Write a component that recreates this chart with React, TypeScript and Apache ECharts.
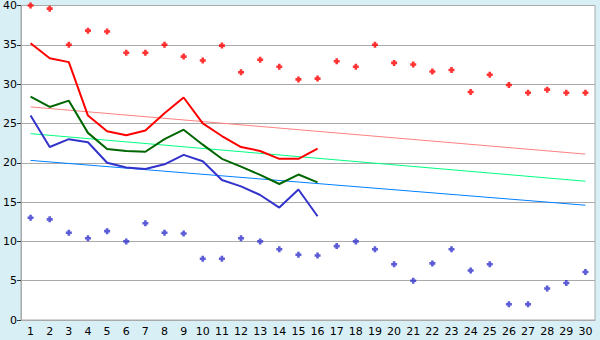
import React, { useEffect, useRef } from "react";
import * as echarts from "echarts";

const days = Array.from({ length: 30 }, (_, i) => String(i + 1));

const maxPoints = [40.0, 39.6, 35.0, 36.8, 36.7, 34.0, 34.0, 35.0, 33.5, 33.0, 34.9, 31.5, 33.1, 32.2, 30.6, 30.7, 32.9, 32.2, 35.0, 32.7, 32.5, 31.6, 31.8, 29.0, 31.2, 29.9, 28.9, 29.3, 28.9, 28.9];
const minPoints = [13.0, 12.8, 11.1, 10.4, 11.3, 10.0, 12.3, 11.1, 11.0, 7.8, 7.8, 10.4, 10.0, 9.0, 8.3, 8.2, 9.4, 10.0, 9.0, 7.1, 5.0, 7.2, 9.0, 6.3, 7.1, 2.0, 2.0, 4.0, 4.7, 6.1];

const redLine = [35.2, 33.3, 32.8, 26.0, 24.0, 23.5, 24.1, 26.3, 28.3, 25.0, 23.4, 22.0, 21.5, 20.5, 20.5, 21.8];
const greenLine = [28.4, 27.1, 27.9, 23.8, 21.75, 21.5, 21.4, 23.0, 24.2, 22.3, 20.5, 19.5, 18.45, 17.3, 18.5, 17.5];
const blueLine = [26.0, 22.0, 23.0, 22.6, 20.0, 19.4, 19.2, 19.8, 21.0, 20.2, 17.8, 17.0, 15.9, 14.3, 16.6, 13.2];

const pinkTrend = [27.1, 21.1];
const greenTrend = [23.7, 17.65];
const blueTrend = [20.3, 14.6];

const yTicks = { min: 0, max: 40, interval: 5 };

const plusSymbol = "path://M2,0H5V2H7V5H5V7H2V5H0V2H2Z";

function trendData(ends: number[]) {
  return days.map((_, i) => (i === 0 ? ends[0] : i === days.length - 1 ? ends[1] : null));
}

export default function App() {
  const ref = useRef<HTMLDivElement>(null);
  useEffect(() => {
    document.body.style.margin = "0";
    const chart = echarts.init(ref.current!, null, { renderer: "svg" });
    const font = "DejaVu Sans";
    chart.setOption({
      animation: false,
      backgroundColor: "#d9eff6",
      grid: {
        left: 20,
        right: 5,
        top: 5,
        bottom: 20,
        show: true,
        backgroundColor: "#ffffff",
        borderColor: "#aaaaaa",
        borderWidth: 1,
      },
      xAxis: {
        type: "category",
        data: days,
        boundaryGap: true,
        axisLine: { lineStyle: { color: "#aaaaaa" } },
        axisTick: { alignWithLabel: true, length: 5, lineStyle: { color: "#333" } },
        axisLabel: { color: "#000", fontFamily: font, fontSize: 11, margin: 6, interval: 0 },
        splitLine: { show: false },
      },
      yAxis: {
        type: "value",
        min: yTicks.min,
        max: yTicks.max,
        interval: yTicks.interval,
        axisLine: { show: true, lineStyle: { color: "#aaaaaa" } },
        axisTick: { show: true, length: 4, lineStyle: { color: "#333" } },
        axisLabel: { color: "#000", fontFamily: font, fontSize: 11, margin: 4 },
        splitLine: { lineStyle: { color: "#aaaaaa", width: 1 } },
      },
      series: [
        {
          type: "line",
          data: trendData(pinkTrend),
          connectNulls: true,
          symbol: "none",
          lineStyle: { color: "#ff8080", width: 1 },
        },
        {
          type: "line",
          data: trendData(greenTrend),
          connectNulls: true,
          symbol: "none",
          lineStyle: { color: "#00ff80", width: 1 },
        },
        {
          type: "line",
          data: trendData(blueTrend),
          connectNulls: true,
          symbol: "none",
          lineStyle: { color: "#0080ff", width: 1 },
        },
        {
          type: "line",
          data: redLine,
          symbol: "none",
          lineStyle: { color: "#ff0000", width: 2 },
        },
        {
          type: "line",
          data: greenLine,
          symbol: "none",
          lineStyle: { color: "#006600", width: 2 },
        },
        {
          type: "line",
          data: blueLine,
          symbol: "none",
          lineStyle: { color: "#3333cc", width: 2 },
        },
        {
          type: "scatter",
          data: maxPoints,
          symbol: plusSymbol,
          symbolSize: 6,
          itemStyle: { color: "#ff0000" },
        },
        {
          type: "scatter",
          data: minPoints,
          symbol: plusSymbol,
          symbolSize: 6,
          itemStyle: { color: "#3333cc" },
        },
      ],
    });
    return () => chart.dispose();
  }, []);
  return <div ref={ref} style={{ width: 600, height: 340 }} />;
}
